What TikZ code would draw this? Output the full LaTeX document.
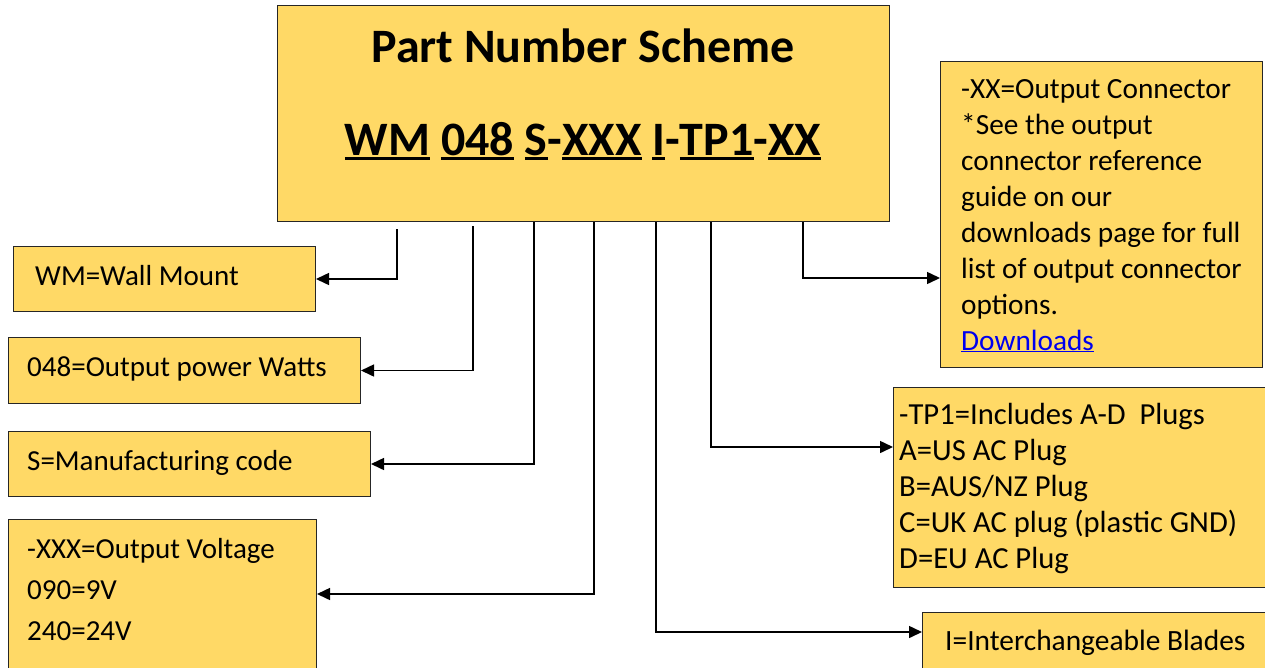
\documentclass[tikz,border=0pt]{standalone}
\usepackage{fontspec}
\setmainfont{Carlito}
\usetikzlibrary{arrows.meta}
\definecolor{boxfill}{HTML}{FFD966}
\definecolor{linkblue}{HTML}{0000EE}
\newcommand\myul[1]{\setbox0\hbox{#1}\rlap{\rule[-5pt]{\wd0}{3pt}}\box0\relax}
\begin{document}
\begin{tikzpicture}[x=1pt,y=-1pt,
  box/.style={draw=black!85, line width=1pt, fill=boxfill, inner sep=0pt, anchor=north west},
  conn/.style={line width=1.5pt, -{Triangle[length=13pt,width=12pt]}},
  tx/.style={inner sep=0pt, anchor=base west, align=left, font=\fontsize{29}{36}\selectfont},
  ttl/.style={inner sep=0pt, anchor=base, font=\fontsize{48}{56}\selectfont\bfseries}]
\useasboundingbox (0,0) rectangle (1265,667);
% boxes
\node[box, minimum width=612pt, minimum height=216pt] (main) at (277,5) {};
\node[box, minimum width=302pt, minimum height=65pt] (wm) at (13,246) {};
\node[box, minimum width=352pt, minimum height=66pt] (pw) at (8,337) {};
\node[box, minimum width=362pt, minimum height=65pt] (mc) at (8,431) {};
\node[box, minimum width=308pt, minimum height=160pt] (ov) at (8,519) {};
\node[box, minimum width=322pt, minimum height=306pt] (oc) at (940,61) {};
\node[box, minimum width=380pt, minimum height=200pt] (tp) at (893,387) {};
\node[box, minimum width=360pt, minimum height=70pt] (ib) at (922,612) {};
% titles
\node[ttl] (t1) at (583,62) {Part Number Scheme};
\node[ttl] (t2) at (583,155) {\myul{WM} \myul{048} \myul{S}-\myul{XXX} \myul{I}-\myul{TP1}-\myul{XX}};
% texts (multi-line nodes are placed by the baseline of their last line)
\node[tx] (wmt) at (35,285) {WM=Wall Mount};
\node[tx] (pwt) at (27,376) {048=Output power Watts};
\node[tx] (mct) at (27,470) {S=Manufacturing code};
\node[tx, font=\fontsize{29}{41}\selectfont] (ovt) at (27,640) {-XXX=Output Voltage\\090=9V\\240=24V};
\node[tx, font=\fontsize{29.3}{35.9}\selectfont] (oct) at (961,350) {-XX=Output Connector\\*See the output\\connector reference\\guide on our\\downloads page for full\\list of output connector\\options.\\\textcolor{linkblue}{\underline{Downloads}}};
\node[tx, font=\fontsize{30.6}{35.8}\selectfont] (tpt) at (899,568) {-TP1=Includes A-D\ \ Plugs\\A=US AC Plug\\B=AUS/NZ Plug\\C=UK AC plug (plastic GND)\\D=EU AC Plug};
\node[tx, font=\fontsize{29.4}{36}\selectfont] (ibt) at (945,650) {I=Interchangeable Blades};
% connector anchors
\coordinate (c1) at (397,229);
\coordinate (c2) at (473,226);
\coordinate (c3) at (534,222);
\coordinate (c4) at (594,222);
\coordinate (c5) at (656,222);
\coordinate (c6) at (711,222);
\coordinate (c7) at (803,222);
\coordinate (y4) at (0,594);
\coordinate (y5) at (0,632);
\coordinate (y6) at (0,447);
\coordinate (y7) at (0,278);
\draw[conn] (c1) |- (wm.east);
\draw[conn] (c2) |- (pw.east);
\draw[conn] (c3) |- (mc.east);
\draw[conn] (c4) |- (ov.east |- y4);
\draw[conn] (c5) |- (ib.west |- y5);
\draw[conn] (c6) |- (tp.west |- y6);
\draw[conn] (c7) |- (oc.west |- y7);
\end{tikzpicture}
\end{document}
